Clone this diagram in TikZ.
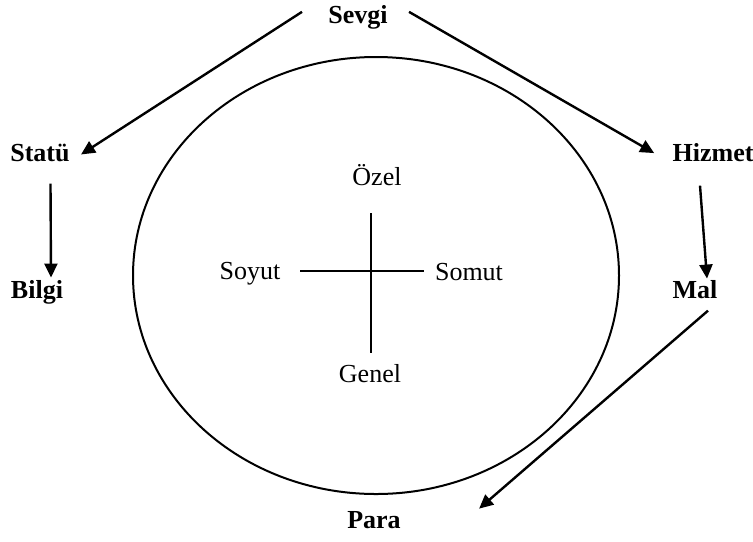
\documentclass[tikz,border=0pt]{standalone}
\usepackage{fontspec}
\setmainfont{Liberation Serif}
\usepackage{tikz}
\usetikzlibrary{arrows.meta,positioning}

\begin{document}
\begin{tikzpicture}[
    x=0.5pt, y=-0.5pt,
    value/.style={font=\fontsize{13}{15}\selectfont\bfseries, inner sep=0pt, anchor=base},
    pole/.style={font=\fontsize{13}{15}\selectfont, inner sep=0pt, anchor=base},
    flow/.style={draw, line width=1.2pt, -{Triangle[length=7pt, width=6.5pt]}},
    axis/.style={draw, line width=1pt}
]
\useasboundingbox (0,0) rectangle (753,541);

% outer values
\node[value] (sevgi)  at (358,23)  {Sevgi};
\node[value] (statu)  at (40,161)  {Statü};
\node[value] (hizmet) at (713,161) {Hizmet};
\node[value] (bilgi)  at (37,298)  {Bilgi};
\node[value] (mal)    at (695,298) {Mal};
\node[value] (para)   at (374,528) {Para};

% oval
\draw[line width=1pt] (376,275.5) ellipse [x radius=121.5pt, y radius=109.25pt];

% cross with poles
\coordinate (o) at (371,271);
\draw[axis] (o) ++(-71,0) -- ++(124,0);
\draw[axis] (o) ++(0,-58) -- ++(0,140);
\node[pole] (ozel)  at (377,185) {Özel};
\node[pole] (soyut) at (250,279) {Soyut};
\node[pole] (somut) at (469,280) {Somut};
\node[pole] (genel) at (370,382) {Genel};

% arrows
\draw[flow] ([xshift=-13pt, yshift=2.5pt]sevgi.west) -- ([xshift=5.5pt, yshift=-1pt]statu.east);
\draw[flow] ([xshift=10.5pt, yshift=2.5pt]sevgi.east) -- ([xshift=-9pt, yshift=-0.5pt]hizmet.west);
\draw[flow] ([xshift=5.25pt, yshift=-11pt]statu.south) -- ([xshift=7pt, yshift=1pt]bilgi.north);
\draw[flow] ([xshift=-6.5pt, yshift=-12pt]hizmet.south) -- ([xshift=6pt, yshift=0.5pt]mal.north);
\draw[flow] ([xshift=6.5pt, yshift=-6pt]mal.south) -- ([xshift=39pt, yshift=5.5pt]para.east);

\end{tikzpicture}
\end{document}
